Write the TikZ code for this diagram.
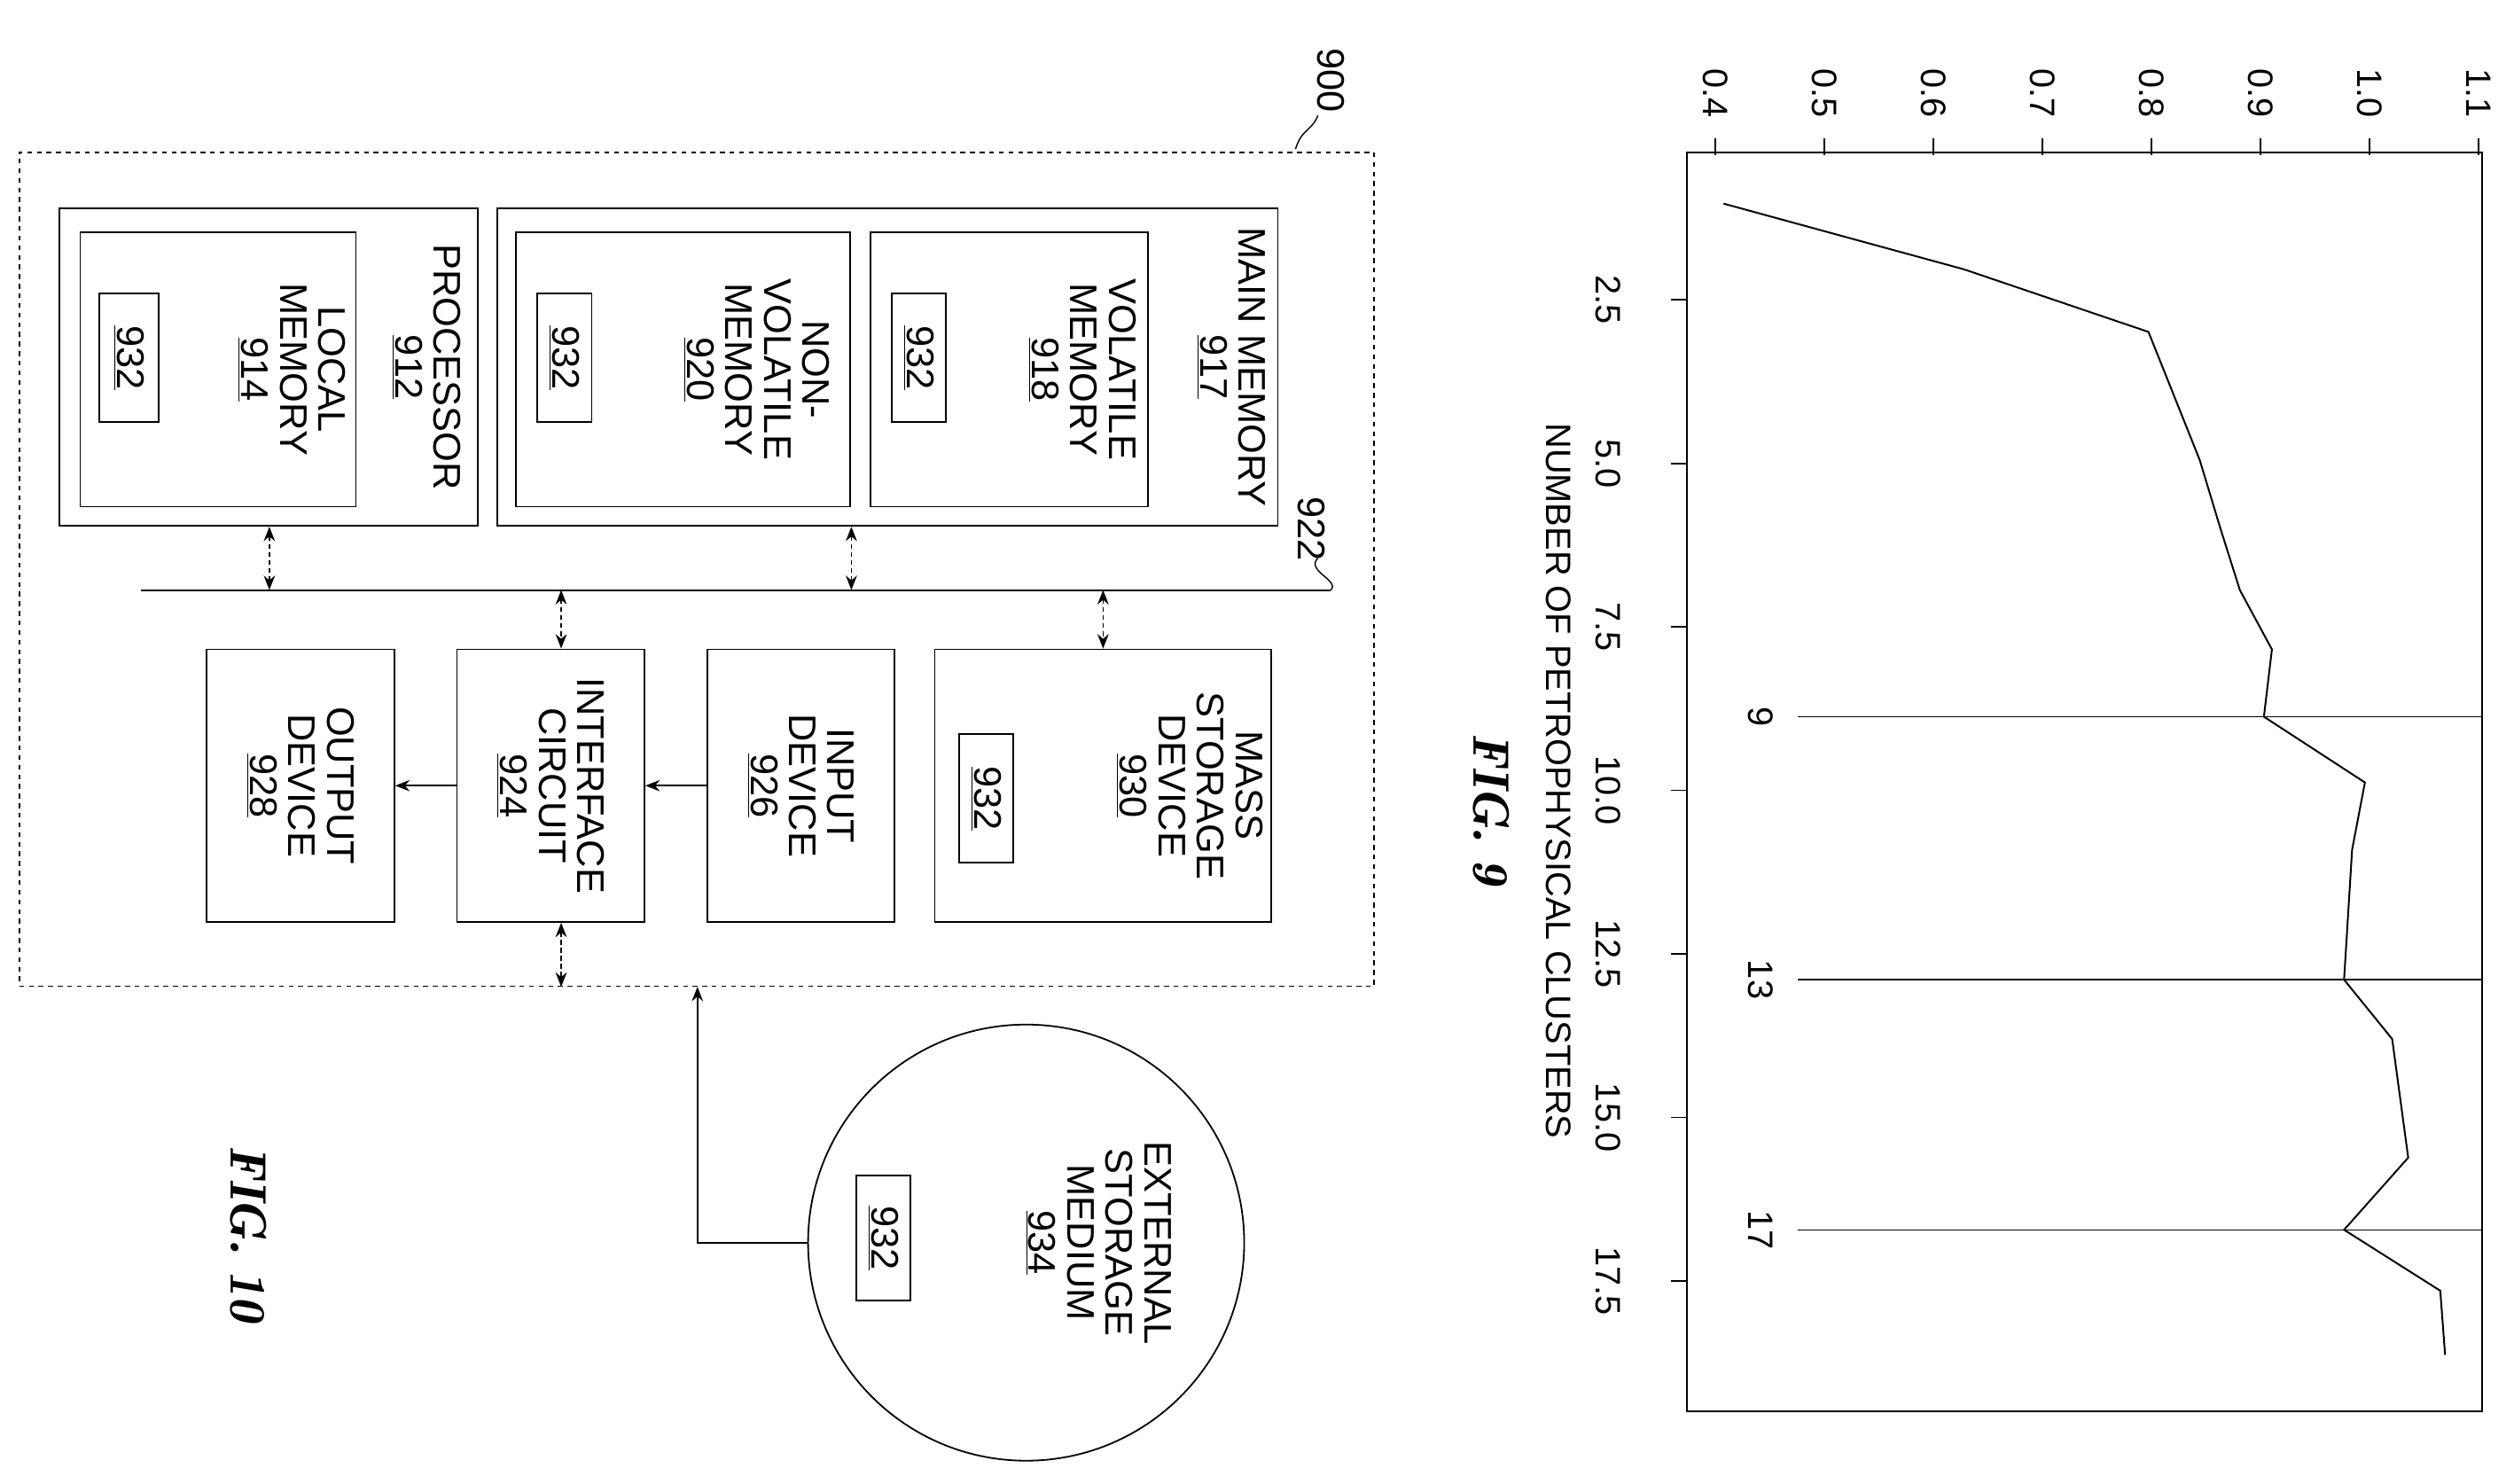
\documentclass[tikz,border=0pt]{standalone}
\usepackage{fontspec}
\setmainfont{Liberation Sans}
\usetikzlibrary{arrows.meta}
\begin{document}
\begin{tikzpicture}[x=1pt,y=-1pt,
  box/.style={draw,line width=1pt,inner sep=0},
  txt/.style={rotate=-90,align=center,font=\fontsize{24}{24}\selectfont},
  tk/.style={rotate=-90,font=\fontsize{22}{22}\selectfont},
  ar/.style={-{Stealth[length=9pt,width=7pt]},line width=0.9pt},
  dar/.style={{Stealth[length=9pt,width=7pt]}-{Stealth[length=9pt,width=7pt]},line width=0.9pt,densely dashed}]
\useasboundingbox (0,0) rectangle (1568,925);
% ===== FIG 9 chart =====
\node[box,line width=1.1pt,minimum width=496,minimum height=785] (plot) at (1300,487.5) {};
\foreach \v/\l in {0.4/0.4,0.5/0.5,0.6/0.6,0.7/0.7,0.8/0.8,0.9/0.9,1.0/1.0,1.1/1.1}{
  \pgfmathsetmacro{\xx}{1070+(\v-0.4)*680}
  \draw[line width=0.9pt] (\xx,97) -- (\xx,86);
  \node[tk] (t\l) at (\xx,58) {\l};
}
\foreach \n in {2.5,5.0,7.5,10.0,12.5,15.0,17.5}{
  \pgfmathsetmacro{\yy}{187+(\n-2.5)*40.8}
  \draw[line width=0.9pt] (1052,\yy) -- (1042,\yy);
  \node[tk] (n\n) at (1003,\yy) {\n};
}
\node[tk] (xt) at (972,487) {NUMBER OF PETROPHYSICAL CLUSTERS};
\foreach \n/\yy in {9/447,13/611,17/767}{
  \node[tk] (k\n) at (1098,\yy) {\n};
  \draw[line width=0.8pt] (k\n.north) ++(12,0) -- (1548,\yy);
}
\draw[line width=1.1pt] (1075,127)--(1225,168)--(1340,207)--(1372,287)--(1385,330)--(1397,368)--(1417,405)--(1412,447)--(1475,488)--(1467,530)--(1462,611)--(1492,648)--(1502,722)--(1462,767)--(1522,805)--(1525,845);
\node[rotate=-90,font=\fontsize{32}{32}\fontfamily{lmr}\bfseries\itshape\selectfont] (f9) at (930,505) {FIG. 9};
% ===== FIG 10 block diagram =====
\node[draw,dashed,line width=0.9pt,minimum width=845,minimum height=520,inner sep=0] (sys) at (434.5,355) {};
\node[txt] (l900) at (830,50) {900};
\draw[line width=0.8pt] (808,93) .. controls (812,80) and (818,82) .. (822,72);
% main memory
\node[box,minimum width=487,minimum height=198] (mm) at (553.5,229) {};
\node[txt] (mmt) at (768,229) {MAIN MEMORY\\\underline{917}};
\node[box,minimum width=173,minimum height=171] (vm) at (629.5,230.5) {};
\node[txt] (vmt) at (675,230.5) {VOLATILE\\MEMORY\\\underline{918}};
\node[box,minimum width=34,minimum height=80] (c1) at (573,223) {};
\node[txt] (c1t) at (573,223) {\underline{932}};
\node[box,minimum width=208,minimum height=171] (nv) at (426,230.5) {};
\node[txt] (nvt) at (472,230.5) {NON-\\VOLATILE\\MEMORY\\\underline{920}};
\node[box,minimum width=34,minimum height=80] (c2) at (352,223) {};
\node[txt] (c2t) at (352,223) {\underline{932}};
% processor
\node[box,minimum width=261,minimum height=198] (pr) at (167.5,229) {};
\node[txt] (prt) at (266,229) {PROCESSOR\\\underline{912}};
\node[box,minimum width=172,minimum height=171] (lm) at (136,230.5) {};
\node[txt] (lmt) at (182,230.5) {LOCAL\\MEMORY\\\underline{914}};
\node[box,minimum width=37,minimum height=80] (c3) at (80.5,223) {};
\node[txt] (c3t) at (80.5,223) {\underline{932}};
% bus
\coordinate (b1) at (88,368);
\coordinate (b2) at (830,368);
\draw[line width=1.1pt] (b1) -- (b2);
\node[txt] (l922) at (818,330) {922};
\draw[line width=0.8pt] (830,368) .. controls (836,362) and (814,356) .. (822,348);
% lower boxes
\node[box,minimum width=210,minimum height=170] (ms) at (688,490) {};
\node[txt] (mst) at (742,490) {MASS\\STORAGE\\DEVICE\\\underline{930}};
\node[box,minimum width=34,minimum height=80] (c4) at (615,498) {};
\node[txt] (c4t) at (615,498) {\underline{932}};
\node[box,minimum width=117,minimum height=170] (in) at (499.5,490) {};
\node[txt] (int) at (499.5,490) {INPUT\\DEVICE\\\underline{926}};
\node[box,minimum width=117,minimum height=170] (ic) at (343.5,490) {};
\node[txt] (ict) at (343.5,490) {INTERFACE\\CIRCUIT\\\underline{924}};
\node[box,minimum width=117,minimum height=170] (od) at (187.5,490) {};
\node[txt] (odt) at (187.5,490) {OUTPUT\\DEVICE\\\underline{928}};
% bus arrows
\draw[dar] (pr.south -| 168,0) -- (168,368);
\draw[dar] (mm.south -| 531,0) -- (531,368);
\draw[dar] (688,368) -- (ms.north -| 688,0);
\draw[dar] (350,368) -- (ic.north -| 350,0);
\draw[ar] (in.west) -- (ic.east);
\draw[ar] (ic.west) -- (od.east);
\draw[dar] (ic.south -| 350,0) -- (sys.south -| 350,0);
% external
\node[circle,draw,line width=1pt,minimum size=272,inner sep=0] (ext) at (640,775) {};
\node[txt] (extt) at (685,775) {EXTERNAL\\STORAGE\\MEDIUM\\\underline{934}};
\node[box,minimum width=34,minimum height=78] (c5) at (551,772) {};
\node[txt] (c5t) at (551,772) {\underline{932}};
\draw[ar] (ext.west) -| (sys.south -| 435,0);
\node[rotate=-90,font=\fontsize{32}{32}\fontfamily{lmr}\bfseries\itshape\selectfont] (f10) at (155,770) {FIG. 10};
\end{tikzpicture}
\end{document}
